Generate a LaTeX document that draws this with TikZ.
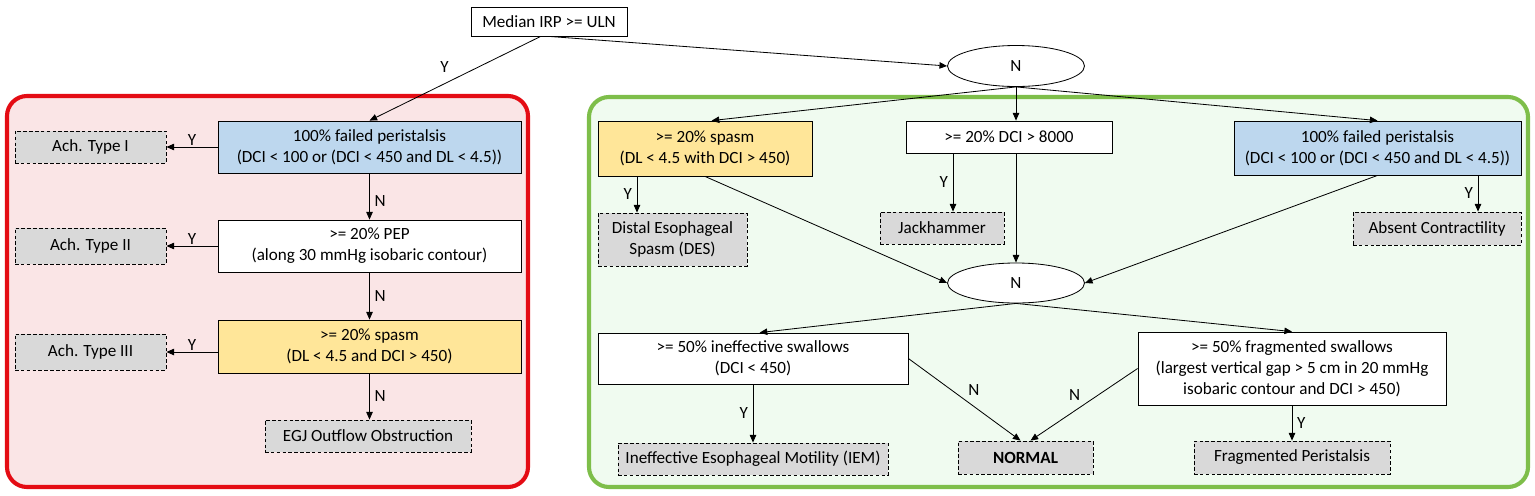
\documentclass[tikz,border=0pt]{standalone}
\usepackage{fontspec}
\setmainfont{Carlito}
\usetikzlibrary{arrows.meta, shapes.geometric}
\definecolor{achred}{RGB}{228,12,20}
\definecolor{achfill}{RGB}{250,229,230}
\definecolor{normgreen}{RGB}{126,190,74}
\definecolor{normfill}{RGB}{240,251,240}
\definecolor{failblue}{RGB}{189,215,238}
\definecolor{spasmgold}{RGB}{255,230,153}
\definecolor{dxgray}{RGB}{217,217,217}
\tikzset{
    every node/.style = {font=\fontsize{14.6}{18}\selectfont, align=center, inner sep=1pt},
    sz/.style 2 args = {minimum width=#1*0.03cm, minimum height=#2*0.03cm},
    test/.style = {draw, line width=0.7pt, fill=white},
    split/.style = {draw, ellipse, line width=0.7pt, fill=white},
    dx/.style = {draw, dashed, dash pattern=on 3pt off 2pt, line width=0.7pt, fill=dxgray},
    arr/.style = {-{Triangle[length=6.5pt,width=5.5pt]}, line width=0.7pt},
    lbl/.style = {font=\fontsize{14.6}{18}\selectfont, fill=none},
    panel/.style = {line width=3.5pt, rounded corners=0.6cm}
}

\begin{document}
\begin{tikzpicture}[x=0.03cm, y=-0.03cm]
    \useasboundingbox (0,0) rectangle (1535,495);
    % panels
    \draw[panel, draw=achred, fill=achfill] (7,96) rectangle (528,487);
    \draw[panel, draw=normgreen, fill=normfill] (589,97) rectangle (1528,487);

    % start
    \node[test, sz={156}{29}] (irp) at (549,21.5) {Median IRP >= ULN};
    \node[split, sz={137}{41}] (nTop) at (1016,66) {N};

    % achalasia / EGJ side
    \node[test, fill=failblue, sz={303}{52}] (failA) at (369.5,147)
        {100\% failed peristalsis\\(DCI < 100 or (DCI < 450 and DL < 4.5))};
    \node[test, sz={303}{52}] (pep) at (369.5,246)
        {>= 20\% PEP\\(along 30 mmHg isobaric contour)};
    \node[test, fill=spasmgold, sz={303}{53}] (spasmA) at (369.5,346.5)
        {>= 20\% spasm\\(DL < 4.5 and DCI > 450)};
    \node[dx, sz={151}{32}] (achI) at (90.5,147) {Ach. Type I};
    \node[dx, sz={151}{36}] (achII) at (90.5,246) {Ach. Type II};
    \node[dx, sz={151}{36}] (achIII) at (90.5,352) {Ach. Type III};
    \node[dx, sz={206}{32}] (egj) at (368,436) {EGJ Outflow Obstruction};

    % peristalsis side
    \node[test, fill=spasmgold, sz={214}{55}] (spasmB) at (705,148.5)
        {>= 20\% spasm\\(DL < 4.5 with DCI > 450)};
    \node[test, sz={206}{32}] (dci) at (1009,137) {>= 20\% DCI > 8000};
    \node[test, fill=failblue, sz={287}{54}] (failB) at (1377.5,148)
        {100\% failed peristalsis\\(DCI < 100 or (DCI < 450 and DL < 4.5))};
    \node[dx, sz={149}{53}] (des) at (672.5,239.5) {Distal Esophageal\\Spasm (DES)};
    \node[dx, sz={124}{32}] (jack) at (942,228) {Jackhammer};
    \node[dx, sz={168}{33}] (absent) at (1437,228.5) {Absent Contractility};
    \node[split, sz={137}{40}] (nMid) at (1016,283) {N};
    \node[test, sz={310}{51}] (ineff) at (753,358.5)
        {>= 50\% ineffective swallows\\(DCI < 450)};
    \node[test, sz={308}{73}] (frag) at (1292,368.5)
        {>= 50\% fragmented swallows\\(largest vertical gap > 5 cm in 20 mmHg\\isobaric contour and DCI > 450)};
    \node[dx, sz={270}{32}] (iem) at (753,459) {Ineffective Esophageal Motility (IEM)};
    \node[dx, sz={135}{33}] (normal) at (1025.5,457.5) {\bfseries NORMAL};
    \node[dx, sz={196}{33}] (fragP) at (1292,457.5) {Fragmented Peristalsis};

    % connectors
    \draw[arr] (irp.south) -- (nTop.west);
    \draw[arr] ([xshift=-0.25cm]irp.south) -- node[lbl, above left=4pt] {Y} (failA.north);

    \draw[arr] (failA.west) -- node[lbl, above] {Y} (achI.east);
    \draw[arr] (failA.south) -- node[lbl, right=3pt, yshift=-4pt] {N} (pep.north);
    \draw[arr] (pep.west) -- node[lbl, above] {Y} (achII.east);
    \draw[arr] (pep.south) -- node[lbl, right=3pt] {N} (spasmA.north);
    \draw[arr] (spasmA.west |- achIII.east) -- node[lbl, above] {Y} (achIII.east);
    \draw[arr] (spasmA.south) -- node[lbl, right=3pt] {N} (spasmA.south |- egj.north);

    \draw[arr] (nTop.south) -- ([xshift=0.2cm]spasmB.north);
    \draw[arr] (nTop.south) -- (nTop.south |- dci.north);
    \draw[arr] (nTop.south) -- (failB.north);
    \draw[arr] (spasmB.south -| 637,0) -- node[lbl, left=3pt] {Y} (des.north -| 637,0);
    \draw[arr] (dci.south -| 953,0) -- node[lbl, left=3pt] {Y} (jack.north -| 953,0);
    \draw[arr] (failB.south -| 1478,0) -- node[lbl, left=3pt] {Y} (absent.north -| 1478,0);
    \draw[arr] (spasmB.south) -- (nMid.west);
    \draw[arr] (dci.south -| nMid.north) -- (nMid.north);
    \draw[arr] (failB.south) -- (nMid.east);

    \draw[arr] (nMid.south) -- ([xshift=0.2cm]ineff.north);
    \draw[arr] (nMid.south) -- (frag.north);
    \draw[arr] (ineff.south) -- node[lbl, left=3pt] {Y} (iem.north);
    \draw[arr] (ineff.east) -- node[lbl, above right=2pt] {N} ([xshift=-0.15cm]normal.north);
    \draw[arr] (frag.west) -- node[lbl, above left=2pt] {N} ([xshift=0.15cm]normal.north);
    \draw[arr] (frag.south) -- node[lbl, right=3pt] {Y} (fragP.north);
\end{tikzpicture}
\end{document}
